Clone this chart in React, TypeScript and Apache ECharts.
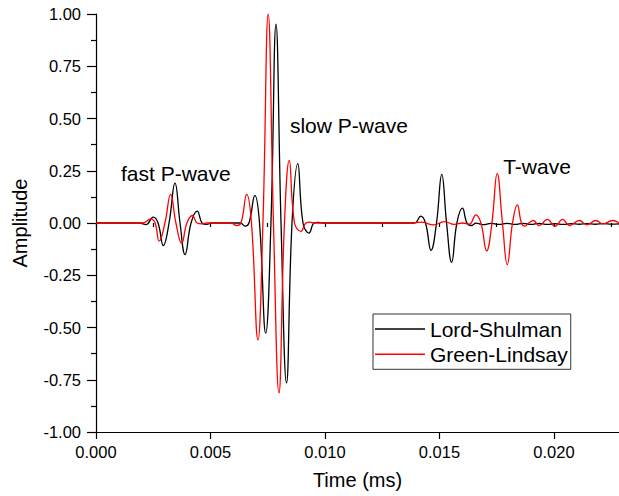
import React, { useEffect, useRef } from "react";
import * as echarts from "echarts";

// Time (ms) readings of the Lord-Shulman curve (peaks, troughs, crossings)
const lsTime = [
  0, 0.0019, 0.00218, 0.0025, 0.00271, 0.00294, 0.00319, 0.00345, 0.00367, 0.00389, 0.00415, 0.00442, 0.00463, 0.00483, 0.00505,
  0.0063, 0.00651, 0.00668, 0.00694, 0.00714, 0.00741, 0.00764, 0.00786, 0.00808, 0.00832, 0.00856, 0.00881, 0.00904, 0.0093, 0.00952, 0.00968, 0.0099,
  0.0139, 0.01418, 0.01439, 0.01463, 0.01487, 0.0151, 0.01531, 0.01553, 0.01576, 0.016, 0.0162, 0.01638, 0.0166, 0.0169, 0.01725, 0.0176,
  0.01795, 0.0183, 0.01865, 0.019, 0.01935, 0.0197, 0.02005, 0.0204, 0.02075, 0.0211, 0.02145, 0.0218, 0.02215, 0.0225, 0.02284,
];
const lsAmp = [
  0, 0, -0.008, 0.028, 0, -0.108, 0, 0.191, 0, -0.151, 0, 0.057, 0, -0.007, 0,
  0, -0.015, 0, 0.132, 0, -0.527, 0, 0.951, 0, -0.765, 0, 0.284, 0, -0.048, 0, 0.003, 0,
  0, 0.033, 0, -0.131, 0, 0.233, 0, -0.188, 0, 0.071, 0, -0.012, -0.001, -0.008, -0.002, -0.007,
  -0.002, -0.007, -0.002, -0.007, -0.002, -0.007, -0.003, -0.007, -0.003, -0.006, -0.003, -0.006, -0.003, -0.005, -0.004,
];

// Time (ms) readings of the Green-Lindsay curve
const glTime = [
  0, 0.00205, 0.00239, 0.00258, 0.00276, 0.00301, 0.00326, 0.00349, 0.00374, 0.00397, 0.00421, 0.00441, 0.00462, 0.00485,
  0.0059, 0.00612, 0.00633, 0.00658, 0.00679, 0.00707, 0.00729, 0.00752, 0.00775, 0.00799, 0.00823, 0.00844, 0.00867, 0.00895, 0.00917, 0.00934, 0.00955,
  0.0138, 0.0142, 0.01475, 0.01521, 0.01565, 0.016, 0.0163, 0.01659, 0.01681, 0.01706, 0.01729, 0.01752, 0.01775, 0.01796, 0.01819, 0.0184, 0.01858,
  0.01873, 0.0189, 0.0191, 0.01936, 0.01971, 0.02004, 0.02038, 0.02067, 0.02111, 0.02143, 0.02183, 0.02215, 0.02256, 0.02284,
];
const glAmp = [
  0, 0, 0.02, 0, -0.087, 0, 0.137, 0, -0.097, 0, 0.036, 0, -0.004, 0,
  0, -0.012, 0, 0.137, 0, -0.559, 0, 1.0, 0, -0.813, 0, 0.3, 0, -0.04, 0, 0.004, 0,
  0, 0.004, -0.009, 0.007, -0.007, 0, -0.006, 0.039, 0, -0.133, 0, 0.236, 0, -0.199, 0, 0.087, 0,
  -0.015, 0, 0.012, -0.012, 0.017, -0.015, 0.017, -0.012, 0.012, -0.009, 0.012, -0.004, 0.012, 0,
];

const seriesNames = ["Lord-Shulman", "Green-Lindsay"];
const seriesColors = ["#000000", "#ff0000"];
const annotations = [
  { text: "fast P-wave", t: 0.00109, a: 0.236 },
  { text: "slow P-wave", t: 0.00847, a: 0.468 },
  { text: "T-wave", t: 0.01778, a: 0.272 },
];
const yTicks = { min: -1, max: 1, interval: 0.25 };
const xTicks = { min: 0, max: 0.02284, interval: 0.005, minorInterval: 0.0025 };

const FONT = "'Liberation Sans', Arial, sans-serif";

export default function App() {
  const ref = useRef<HTMLDivElement>(null);
  useEffect(() => {
    if (!ref.current) return;
    const chart = echarts.init(ref.current, null, { renderer: "svg" });
    const zip = (ts: number[], as: number[]) => ts.map((t, i) => [t, as[i]]);
    const datasets = [zip(lsTime, lsAmp), zip(glTime, glAmp)];

    const gridLeft = 96;
    const gridTop = 14;

    chart.setOption({
      animation: false,
      grid: { left: gridLeft, right: 0, top: gridTop, bottom: 64, containLabel: false },
      legend: {
        orient: "vertical",
        left: 373,
        top: 314,
        icon: "rect",
        itemWidth: 50,
        itemHeight: 1.5,
        itemGap: 4.3,
        padding: [4.5, 3, 4.5, 2],
        borderColor: "#333",
        borderWidth: 1,
        selectedMode: false,
        textStyle: { fontSize: 21, fontFamily: FONT, color: "#000" },
        data: seriesNames,
      },
      xAxis: [
        {
          type: "value",
          min: xTicks.min,
          max: xTicks.max,
          interval: xTicks.interval,
          name: "Time (ms)",
          nameLocation: "middle",
          nameGap: 38,
          nameTextStyle: { fontSize: 20, fontFamily: FONT, color: "#000" },
          axisLine: { show: true, onZero: false, lineStyle: { color: "#000", width: 1.2 } },
          axisTick: { show: true, length: 7, lineStyle: { color: "#000", width: 1.2 } },
          axisLabel: {
            show: true,
            margin: 11,
            showMaxLabel: false,
            fontSize: 16.5,
            fontFamily: FONT,
            color: "#000",
            formatter: (v: number) => v.toFixed(3),
          },
          splitLine: { show: false },
        },
        {
          type: "value",
          position: "bottom",
          min: xTicks.min,
          max: xTicks.max,
          interval: xTicks.minorInterval,
          axisLine: { show: false },
          axisTick: { show: true, length: 4, lineStyle: { color: "#000", width: 1.2 } },
          axisLabel: { show: false },
          splitLine: { show: false },
        },
      ],
      yAxis: {
        type: "value",
        min: yTicks.min,
        max: yTicks.max,
        interval: yTicks.interval,
        name: "Amplitude",
        nameLocation: "middle",
        nameGap: 66,
        nameTextStyle: { fontSize: 20, fontFamily: FONT, color: "#000" },
        axisLine: { show: true, onZero: false, lineStyle: { color: "#000", width: 1.2 } },
        axisTick: { show: true, length: 9, lineStyle: { color: "#000", width: 1.2 } },
        minorTick: { show: true, splitNumber: 2, length: 5, lineStyle: { color: "#000", width: 1.2 } },
        axisLabel: {
          margin: 15,
          fontSize: 16.5,
          fontFamily: FONT,
          color: "#000",
          formatter: (v: number) => v.toFixed(2),
        },
        splitLine: { show: false },
      },
      series: seriesNames.map((name, i) => ({
        name,
        type: "line",
        xAxisIndex: 0,
        data: datasets[i],
        smooth: 0.45,
        showSymbol: false,
        symbol: "none",
        color: seriesColors[i],
        itemStyle: { color: seriesColors[i] },
        lineStyle: { color: seriesColors[i], width: 1.3 },
        emphasis: { disabled: true },
      })),
    });

    // annotation texts placed through the axis scale
    const place = () => {
      chart.setOption({
        graphic: annotations.map((an) => {
          const [px, py] = chart.convertToPixel({ xAxisIndex: 0, yAxisIndex: 0 }, [an.t, an.a]);
          return {
            type: "text",
            x: px,
            y: py,
            style: {
              text: an.text,
              fontSize: 21,
              fontFamily: FONT,
              fill: "#000",
              align: "left",
              verticalAlign: "middle",
            },
          };
        }),
      });
    };
    place();

    return () => chart.dispose();
  }, []);

  return (
    <div
      ref={ref}
      style={{ position: "absolute", left: 0, top: 0, width: 619, height: 496, background: "#fff" }}
    />
  );
}
